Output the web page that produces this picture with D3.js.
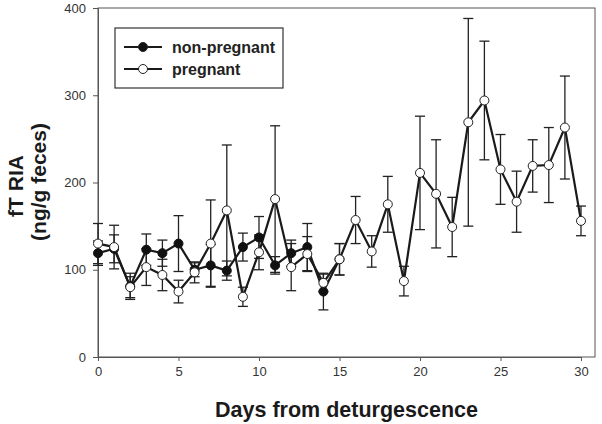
<!DOCTYPE html>
<html><head><meta charset="utf-8">
<script src="https://cdn.jsdelivr.net/npm/d3@7"></script>
<style>body{margin:0;background:#fff}svg{display:block}text{font-family:Arial,"Liberation Sans",sans-serif}</style>
</head><body><svg id="c" width="602" height="424"></svg>
<script>
const daysNP = [0,1,2,3,4,5,6,7,8,9,10,11,12,13,14,15];
const nonPregnant = [119,124,81,123,119,130,100,105,99,126,137,105,119,126,75,112];
const nonPregnantErr = [14,16,15,18,15,32,8,24,11,16,24,10,15,27,21,18];
const daysP = [0,1,2,3,4,5,6,7,8,9,10,11,12,13,14,15,16,17,18,19,20,21,22,23,24,25,26,27,28,29,30];
const pregnant = [130,126,80,103,94,75,97,130,168,69,120,181,103,118,85,112,157,121,175,87,211,187,149,269,294,215,178,219,220,263,156];
const pregnantErr = [23,25,12,21,18,13,12,50,75,11,20,84,27,20,10,18,27,18,32,17,65,62,34,119,68,40,35,30,43,59,17];
const xTicks = [0,5,10,15,20,25,30];
const yTicks = [0,100,200,300,400];
const legendLabels = ["non-pregnant","pregnant"];

const svg = d3.select("#c");
const L=98, R=595, T=8, B=357;
const x = d3.scaleLinear().domain([0,30]).range([L,581]);
const y = d3.scaleLinear().domain([0,400]).range([B,T]);

// frame
svg.append("rect").attr("x",L).attr("y",T).attr("width",R-L).attr("height",B-T)
  .attr("fill","none").attr("stroke","#555").attr("stroke-width",1);

const ax = svg.append("g").attr("transform",`translate(0,${B})`)
  .call(d3.axisBottom(x).tickValues(xTicks).tickSize(4).tickPadding(6).tickFormat(d3.format("d")));
const ay = svg.append("g").attr("transform",`translate(${L},0)`)
  .call(d3.axisLeft(y).tickValues(yTicks).tickSize(5).tickPadding(7).tickFormat(d3.format("d")));
[ax,ay].forEach(g=>{
  g.select(".domain").attr("stroke","#555");
  g.selectAll(".tick line").attr("stroke","#555");
  g.selectAll(".tick text").attr("fill","#333").style("font-size","13px").style("font-family","Arial, 'Liberation Sans', sans-serif");
});

function errbars(days, vals, errs){
  const g = svg.append("g").attr("stroke","#222").attr("stroke-width",1.3);
  days.forEach((d,i)=>{
    const cx=x(d), y1=y(vals[i]+errs[i]), y0=y(vals[i]-errs[i]);
    g.append("line").attr("x1",cx).attr("x2",cx).attr("y1",y1).attr("y2",y0);
    g.append("line").attr("x1",cx-5).attr("x2",cx+5).attr("y1",y1).attr("y2",y1);
    g.append("line").attr("x1",cx-5).attr("x2",cx+5).attr("y1",y0).attr("y2",y0);
  });
}
errbars(daysNP, nonPregnant, nonPregnantErr);
errbars(daysP, pregnant, pregnantErr);

const line = d3.line().x(d=>x(d[0])).y(d=>y(d[1]));
const npData = daysNP.map((d,i)=>[d,nonPregnant[i]]);
const pData = daysP.map((d,i)=>[d,pregnant[i]]);
svg.append("path").datum(npData).attr("d",line).attr("fill","none").attr("stroke","#1a1a1a").attr("stroke-width",2.2);
svg.append("path").datum(pData).attr("d",line).attr("fill","none").attr("stroke","#1a1a1a").attr("stroke-width",2.2);
svg.append("g").selectAll("circle").data(npData).join("circle")
  .attr("cx",d=>x(d[0])).attr("cy",d=>y(d[1])).attr("r",4.5).attr("fill","#111").attr("stroke","#111");
svg.append("g").selectAll("circle").data(pData).join("circle")
  .attr("cx",d=>x(d[0])).attr("cy",d=>y(d[1])).attr("r",4.5).attr("fill","#fff").attr("stroke","#222").attr("stroke-width",1);

// legend
const lg = svg.append("g");
lg.append("rect").attr("x",115).attr("y",28).attr("width",168).attr("height",60)
  .attr("fill","#fff").attr("stroke","#333").attr("stroke-width",1.2);
legendLabels.forEach((lab,i)=>{
  const yy = 47 + i*22;
  lg.append("line").attr("x1",124).attr("x2",162).attr("y1",yy).attr("y2",yy).attr("stroke","#1a1a1a").attr("stroke-width",2);
  lg.append("circle").attr("cx",143).attr("cy",yy).attr("r",4.5)
    .attr("fill", i===0?"#111":"#fff").attr("stroke","#222").attr("stroke-width",1);
  lg.append("text").attr("x",172).attr("y",yy+5.5).text(lab)
    .style("font-size","16px").style("font-weight","bold").attr("fill","#222");
});

// axis titles
svg.append("text").attr("x",(L+R)/2).attr("y",417).attr("text-anchor","middle")
  .style("font-size","21.5px").style("font-weight","bold").attr("fill","#1a1a1a").text("Days from deturgescence");
svg.append("text").attr("transform","translate(23,186) rotate(-90)").attr("text-anchor","middle")
  .style("font-size","21px").style("font-weight","bold").attr("fill","#1a1a1a").text("fT RIA");
svg.append("text").attr("transform","translate(46,182) rotate(-90)").attr("text-anchor","middle")
  .style("font-size","21px").style("font-weight","bold").attr("fill","#1a1a1a").text("(ng/g feces)");
</script></body></html>
